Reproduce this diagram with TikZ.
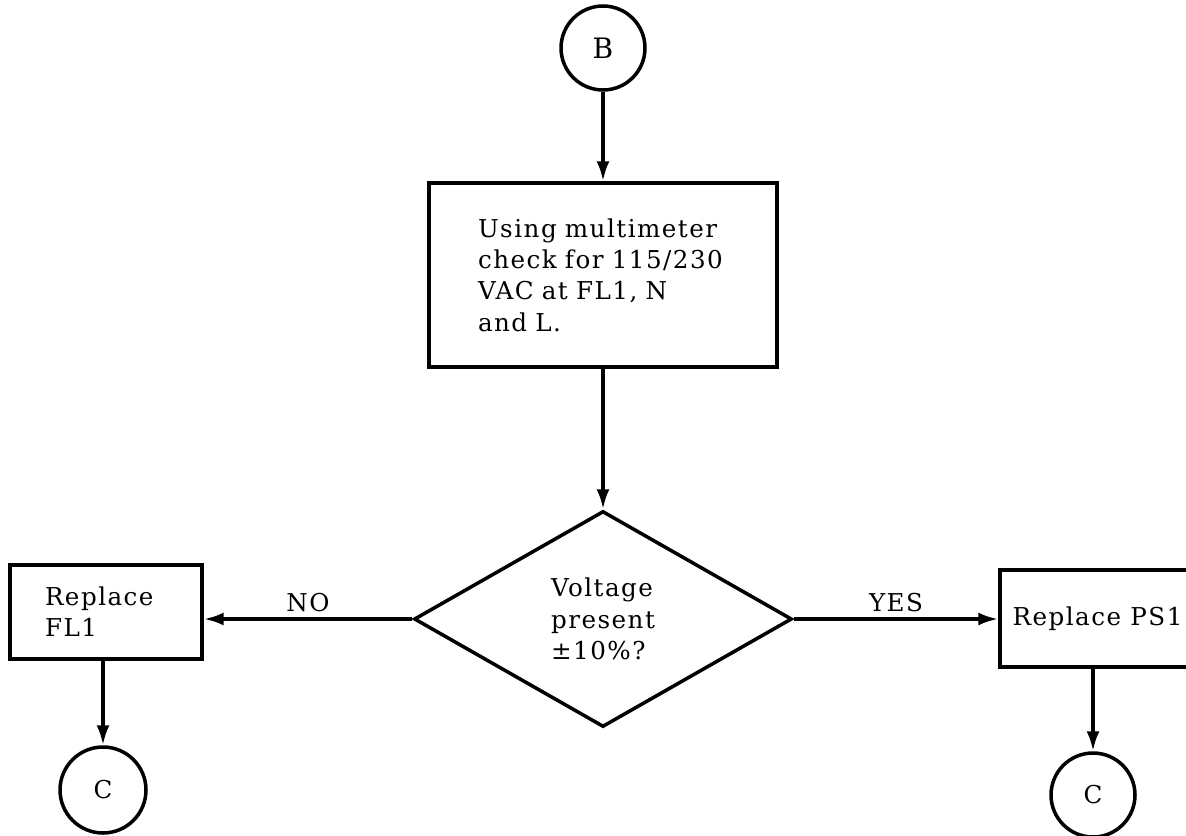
\documentclass[tikz,border=0pt]{standalone}
\usepackage{fontspec}
\setmainfont[LetterSpace=6]{DejaVu Serif}
\usetikzlibrary{shapes.geometric,arrows.meta}
\tikzset{
  procbox/.style={draw, line width=2pt, inner sep=0pt},
  decision/.style={draw, diamond, line width=2pt, inner sep=0pt,
    minimum width=7.56cm, minimum height=4.32cm},
  connector/.style={draw, circle, line width=2pt, inner sep=0pt, minimum size=1.68cm},
  flow/.style={line width=2pt, -{Latex[length=4mm,width=2.6mm]}},
}
\begin{document}
\begin{tikzpicture}[x=0.02cm, y=-0.02cm, font=\fontsize{14}{17.8}\selectfont]
  \useasboundingbox (0,0) rectangle (1186,835);
  \node[connector, font=\fontsize{16}{18}\selectfont] (B) at (603,48) {B};
  \node[procbox, minimum width=6.96cm, minimum height=3.68cm, text width=5cm, align=left]
    (check) at (603,275) {Using multimeter\\check for 115/230\\VAC at FL1, N\\and L.};
  \node[decision, align=left] (volt) at (603,619) {Voltage\\present\\±10\%?};
  \node[procbox, minimum width=3.84cm, minimum height=1.88cm, text width=2.44cm, align=left]
    (fl) at (106,612) {Replace\\FL1};
  \node[procbox, minimum width=3.9cm, minimum height=1.94cm] (ps) at (1097.5,618.5) {Replace PS1};
  \node[connector, minimum size=1.72cm] (cl) at (103,790) {C};
  \node[connector] (cr) at (1093,795) {C};
  % main path
  \draw[flow] (B) -- (check);
  \draw[flow] (check) -- (volt);
  \draw[flow] (volt.west) -- (volt.west -| fl.east) node[midway, above] {NO};
  \draw[flow] (volt.east) -- (volt.east -| ps.west) node[midway, above] {YES};
  \draw[flow] (fl.south -| cl.north) -- (cl.north);
  \draw[flow] (ps.south -| cr.north) -- (cr.north);
\end{tikzpicture}
\end{document}
